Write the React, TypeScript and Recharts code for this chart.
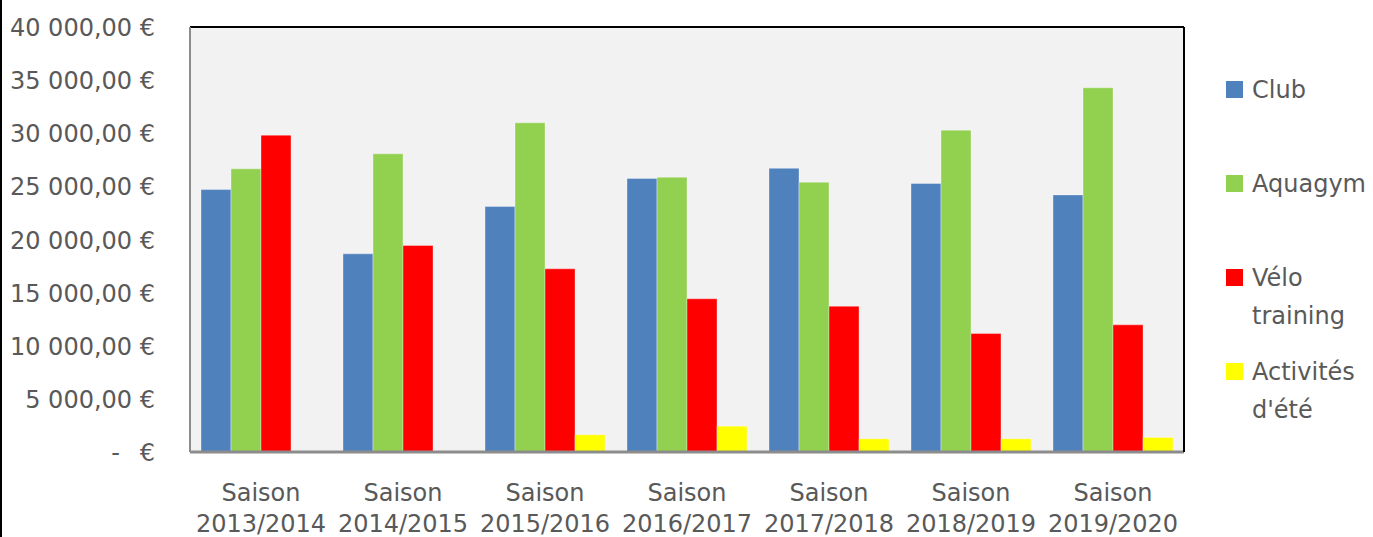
import React from 'react';
import {
  BarChart,
  Bar,
  XAxis,
  YAxis,
  CartesianGrid,
  Legend,
  ReferenceLine,
} from 'recharts';

const categories = [
  'Saison 2013/2014',
  'Saison 2014/2015',
  'Saison 2015/2016',
  'Saison 2016/2017',
  'Saison 2017/2018',
  'Saison 2018/2019',
  'Saison 2019/2020',
];
const club = [24700, 18650, 23100, 25750, 26700, 25270, 24200];
const aquagym = [26650, 28070, 30980, 25860, 25390, 30290, 34280];
const velo = [29820, 19440, 17240, 14420, 13720, 11150, 11970];
const activites = [0, 0, 1620, 2430, 1240, 1240, 1370];
const yTicks = [0, 5000, 10000, 15000, 20000, 25000, 30000, 35000, 40000];

const series = [
  { key: 'club', name: 'Club', lines: ['Club'], color: '#4F81BD' },
  { key: 'aquagym', name: 'Aquagym', lines: ['Aquagym'], color: '#92D050' },
  { key: 'velo', name: 'Vélo training', lines: ['Vélo', 'training'], color: '#FF0000' },
  { key: 'activites', name: "Activités d'été", lines: ['Activités', "d'été"], color: '#FFFF00' },
];

const data = categories.map((c, i) => ({
  name: c,
  club: club[i],
  aquagym: aquagym[i],
  velo: velo[i],
  activites: activites[i],
}));

const FONT = '"DejaVu Sans", sans-serif';
const TEXT = '#595959';
const SIZE = 24;

const euro = (v: number) => {
  const th = Math.floor(v / 1000);
  return `${th} 000,00 €`;
};

const YTick = (props: any) => {
  const { y, payload } = props;
  if (payload.value === 0) {
    return (
      <g fontFamily={FONT} fontSize={SIZE} fill={TEXT}>
        <text x={120} y={y + 9} textAnchor="end">-</text>
        <text x={155} y={y + 9} textAnchor="end">€</text>
      </g>
    );
  }
  return (
    <text x={155} y={y + 9} textAnchor="end" fontFamily={FONT} fontSize={SIZE} fill={TEXT}>
      {euro(payload.value)}
    </text>
  );
};

const XTick = (props: any) => {
  const { x, y, payload } = props;
  const [a, b] = String(payload.value).split(' ');
  return (
    <text x={x} y={y} textAnchor="middle" fontFamily={FONT} fontSize={SIZE} fill={TEXT}>
      <tspan x={x} dy={47}>{a}</tspan>
      <tspan x={x} dy={31}>{b}</tspan>
    </text>
  );
};

const LegendBox = () => (
  <div style={{ position: 'relative', width: 150, height: 340, fontFamily: FONT, fontSize: SIZE, color: TEXT }}>
    {series.map((s, i) => (
      <div key={s.key} style={{ position: 'absolute', left: 0, top: i * 94 }}>
        <div style={{ position: 'absolute', left: 0, top: 0, width: 17, height: 17, background: s.color }} />
        {s.lines.map((l, j) => (
          <div
            key={l}
            style={{ position: 'absolute', left: 26, top: -10 + j * 38, whiteSpace: 'nowrap', lineHeight: '38px', height: 38 }}
          >
            {l}
          </div>
        ))}
      </div>
    ))}
  </div>
);

export default function App() {
  return (
    <div style={{ position: 'absolute', left: 0, top: 0, width: 1373, height: 537, background: '#fff' }}>
      <div style={{ position: 'absolute', left: 0, top: 0, width: 2, height: 537, background: '#000' }} />
      <BarChart
        width={1373}
        height={537}
        data={data}
        margin={{ top: 27, right: 0, left: 0, bottom: 0 }}
        barCategoryGap={11}
        barGap={0}
      >
        <CartesianGrid fill="#F2F2F2" horizontal={false} vertical={false} yAxisId="left" />
        <XAxis
          dataKey="name"
          height={85}
          tickLine={false}
          tickSize={0}
          axisLine={{ stroke: '#8C8C8C', strokeWidth: 3 }}
          tick={<XTick />}
          interval={0}
        />
        <YAxis
          yAxisId="left"
          width={190}
          domain={[0, 40000]}
          ticks={yTicks}
          tickLine={false}
          axisLine={{ stroke: '#8C8C8C', strokeWidth: 2 }}
          tick={<YTick />}
        />
        <YAxis
          yAxisId="right"
          orientation="right"
          width={189}
          domain={[0, 40000]}
          tick={false}
          tickLine={false}
          axisLine={{ stroke: '#000', strokeWidth: 2 }}
        />
        <ReferenceLine yAxisId="left" y={40000} stroke="#000" strokeWidth={2} />
        <Legend
          layout="vertical"
          align="center"
          verticalAlign="middle"
          content={<LegendBox />}
          wrapperStyle={{ left: 1226, top: 81, width: 150, height: 340 }}
        />
        {series.map((s) => (
          <Bar
            key={s.key}
            yAxisId="left"
            dataKey={s.key}
            name={s.name}
            fill={s.color}
            stroke="rgba(255,255,255,0.35)"
            strokeWidth={1}
            isAnimationActive={false}
          />
        ))}
      </BarChart>
    </div>
  );
}
